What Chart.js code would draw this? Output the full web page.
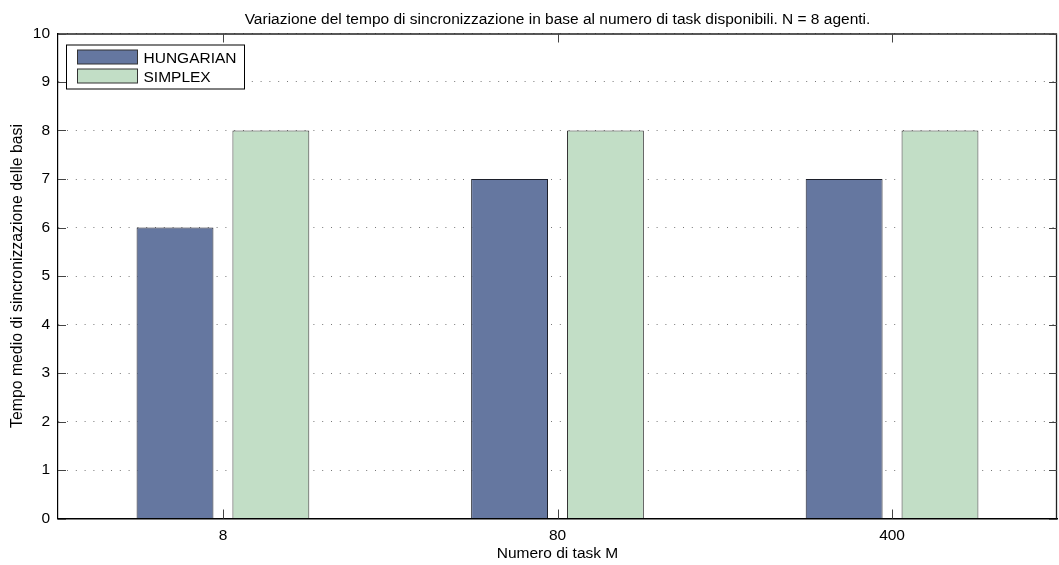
<!DOCTYPE html>
<html>
<head>
<meta charset="utf-8">
<script src="https://cdn.jsdelivr.net/npm/chart.js@4/dist/chart.umd.min.js"></script>
<style>
  html, body { margin: 0; padding: 0; background: #fff; }
  canvas { display: block; }
</style>
</head>
<body>
<canvas id="c" width="1059" height="565"></canvas>
<script>
// Task counts on the x axis and average sync time per algorithm
const categories = ['8', '80', '400'];
const hungarian = [6, 7, 7];
const simplex = [8, 8, 8];
const seriesNames = ['HUNGARIAN', 'SIMPLEX'];
const yTicks = [0, 1, 2, 3, 4, 5, 6, 7, 8, 9, 10];
const titleText = 'Variazione del tempo di sincronizzazione in base al numero di task disponibili. N = 8 agenti.';
const xTitle = 'Numero di task M';
const yTitle = 'Tempo medio di sincronizzazione delle basi';

const FONT = '"Liberation Sans", Arial, Helvetica, sans-serif';
const FS = 15.5;
const colors = ['#6577a0', '#c2dec6'];

// Axes frame, inward tick marks, title and the boxed legend
const framePlugin = {
  id: 'frame',
  afterDatasetsDraw(chart) {
    const ctx = chart.ctx;
    const a = chart.chartArea;
    const xs = chart.scales.x, ys = chart.scales.y;
    ctx.save();
    ctx.strokeStyle = '#222';
    ctx.lineWidth = 1.3;
    // top and right edges of the box
    ctx.beginPath();
    ctx.moveTo(a.left, a.top + 0.5);
    ctx.lineTo(a.right, a.top + 0.5);
    ctx.moveTo(a.right - 0.5, a.top);
    ctx.lineTo(a.right - 0.5, a.bottom);
    ctx.stroke();
    // inward ticks
    ctx.lineWidth = 1;
    ctx.strokeStyle = '#444';
    ctx.beginPath();
    categories.forEach((c, i) => {
      const px = Math.round(xs.getPixelForValue(i + 1)) + 0.5;
      ctx.moveTo(px, a.bottom); ctx.lineTo(px, a.bottom - 9);
      ctx.moveTo(px, a.top); ctx.lineTo(px, a.top + 9);
    });
    yTicks.forEach(v => {
      const py = Math.round(ys.getPixelForValue(v)) + 0.5;
      ctx.moveTo(a.left, py); ctx.lineTo(a.left + 8, py);
      ctx.moveTo(a.right, py); ctx.lineTo(a.right - 8, py);
    });
    ctx.stroke();

    // title centred over the plot area
    ctx.fillStyle = '#000';
    ctx.font = FS + 'px ' + FONT;
    ctx.textAlign = 'center';
    ctx.textBaseline = 'alphabetic';
    ctx.fillText(titleText, (a.left + a.right) / 2, 24);

    // legend box
    const lx = a.left + 8.5, ly = a.top + 11.5, lw = 178, lh = 44;
    ctx.fillStyle = '#fff';
    ctx.fillRect(lx, ly, lw, lh);
    ctx.strokeStyle = '#000';
    ctx.strokeRect(lx, ly, lw, lh);
    chart.data.datasets.forEach((ds, i) => {
      const sy = ly + 5 + i * 19;
      ctx.fillStyle = ds.backgroundColor;
      ctx.fillRect(lx + 11, sy, 60, 14);
      ctx.strokeStyle = '#333';
      ctx.strokeRect(lx + 11, sy, 60, 14);
      ctx.fillStyle = '#000';
      ctx.textAlign = 'left';
      ctx.fillText(ds.label, lx + 77, sy + 13);
    });
    ctx.restore();
  }
};

new Chart(document.getElementById('c'), {
  type: 'bar',
  data: {
    datasets: [
      {
        label: seriesNames[0],
        data: hungarian.map((v, i) => ({ x: i + 1, y: v })),
        backgroundColor: colors[0],
        borderColor: '#1c1f2a',
        borderWidth: 1
      },
      {
        label: seriesNames[1],
        data: simplex.map((v, i) => ({ x: i + 1, y: v })),
        backgroundColor: colors[1],
        borderColor: '#333',
        borderWidth: 1
      }
    ]
  },
  options: {
    responsive: false,
    animation: false,
    devicePixelRatio: 1,
    categoryPercentage: 0.573,
    barPercentage: 0.802,
    layout: { padding: { left: 0, right: 2, top: 33.5, bottom: 0 } },
    plugins: {
      legend: { display: false },
      tooltip: { enabled: false },
      title: { display: false }
    },
    scales: {
      x: {
        type: 'linear',
        min: 0.507,
        max: 3.493,
        offset: false,
        afterBuildTicks: s => { s.ticks = categories.map((c, i) => ({ value: i + 1 })); },
        afterFit: s => { s.height = 46.5; },
        ticks: {
          callback: v => categories[v - 1],
          font: { family: FONT, size: FS },
          color: '#000',
          padding: 0,
          maxRotation: 0,
          autoSkip: false
        },
        grid: { display: false },
        border: { display: true, color: '#000', width: 1.6 },
        title: {
          display: true,
          text: xTitle,
          color: '#000',
          font: { family: FONT, size: FS },
          padding: { top: 0, bottom: 2 }
        }
      },
      y: {
        min: 0,
        max: 10,
        afterBuildTicks: s => { s.ticks = yTicks.map(v => ({ value: v })); },
        afterFit: s => { s.width = 58; },
        ticks: {
          font: { family: FONT, size: FS },
          color: '#000',
          padding: 8
        },
        grid: { color: '#777', lineWidth: 1, drawTicks: false },
        border: { display: true, color: '#000', width: 1.2, dash: [1, 7.8] },
        title: {
          display: true,
          text: yTitle,
          color: '#000',
          font: { family: FONT, size: 15.8 },
          padding: { top: 8, bottom: 0 }
        }
      }
    }
  },
  plugins: [framePlugin]
});
</script>
</body>
</html>
